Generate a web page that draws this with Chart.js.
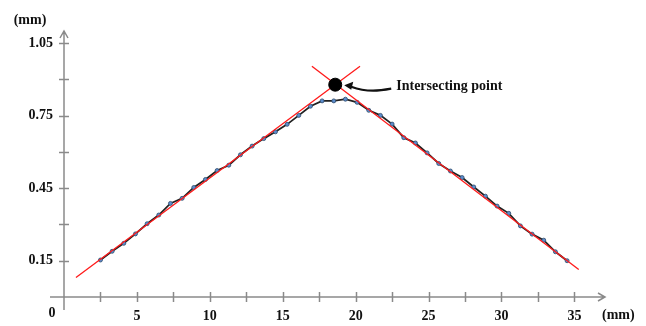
<!DOCTYPE html>
<html>
<head>
<meta charset="utf-8">
<script src="https://cdn.jsdelivr.net/npm/chart.js@4.4.1/dist/chart.umd.min.js"></script>
<style>
  html, body { margin: 0; padding: 0; background: #fff; }
  #wrap { width: 646px; height: 326px; }
</style>
</head>
<body>
<div id="wrap"><canvas id="chart" width="646" height="326"></canvas></div>
<script>
// measured profile (mm)
const xValues = [2.5, 3.3, 4.1, 4.9, 5.7, 6.5, 7.3, 8.1, 8.9, 9.7, 10.5, 11.3, 12.1, 12.9,
    13.7, 14.5, 15.3, 16.1, 16.9, 17.7, 18.5, 19.3, 20.1, 20.9, 21.7, 22.5, 23.3, 24.1,
    24.9, 25.7, 26.5, 27.3, 28.1, 28.9, 29.7, 30.5, 31.3, 32.1, 32.9, 33.7, 34.5];
const yValues = [0.153, 0.189, 0.222, 0.261, 0.303, 0.339, 0.387, 0.408, 0.453, 0.486, 0.523, 0.545, 0.588, 0.624,
    0.655, 0.683, 0.714, 0.751, 0.789, 0.811, 0.811, 0.818, 0.805, 0.772, 0.751, 0.715, 0.659, 0.637,
    0.596, 0.552, 0.521, 0.494, 0.455, 0.417, 0.376, 0.346, 0.294, 0.260, 0.235, 0.187, 0.150];

// fitted lines (end points)
const leftLineX = [0.82, 20.3];
const leftLineY = [0.081, 0.954];
const rightLineX = [17.0, 35.3];
const rightLineY = [0.954, 0.114];

const intersectX = [18.6];
const intersectY = [0.878];

const xTicks = [0, 2.5, 5, 7.5, 10, 12.5, 15, 17.5, 20, 22.5, 25, 27.5, 30, 32.5, 35];
const xLabels = [5, 10, 15, 20, 25, 30, 35];
const yTicks = [0.15, 0.3, 0.45, 0.6, 0.75, 0.9, 1.05];
const yLabels = [0.15, 0.45, 0.75, 1.05];

const toPoints = (xs, ys) => xs.map((x, i) => ({ x: x, y: ys[i] }));

const labelFont = { family: '"Liberation Serif", "Times New Roman", serif', size: 14, weight: 'bold' };
const axisColor = '#8a8a8a';

// axis lines with arrows and crossing ticks, plus the annotation
const axesPlugin = {
    id: 'axesPlugin',
    afterDraw(chart) {
        const ctx = chart.ctx;
        const xs = chart.scales.x;
        const ys = chart.scales.y;
        const x0 = xs.getPixelForValue(0);
        const y0 = ys.getPixelForValue(0);
        const xEnd = xs.right;
        const yTop = ys.top;

        ctx.save();
        ctx.strokeStyle = axisColor;
        ctx.lineWidth = 1.5;

        // x axis
        ctx.beginPath();
        ctx.moveTo(x0 - 14, y0);
        ctx.lineTo(xEnd, y0);
        ctx.moveTo(xEnd - 7, y0 - 4);
        ctx.lineTo(xEnd, y0);
        ctx.lineTo(xEnd - 7, y0 + 4);
        // y axis
        ctx.moveTo(x0, y0 + 13);
        ctx.lineTo(x0, yTop);
        ctx.moveTo(x0 - 4, yTop + 7);
        ctx.lineTo(x0, yTop);
        ctx.lineTo(x0 + 4, yTop + 7);
        ctx.stroke();

        // ticks
        ctx.beginPath();
        xTicks.forEach(v => {
            if (v === 0) return;
            const px = Math.round(xs.getPixelForValue(v)) + 0.5;
            ctx.moveTo(px, y0 - 5);
            ctx.lineTo(px, y0 + 5);
        });
        yTicks.forEach(v => {
            const py = Math.round(ys.getPixelForValue(v)) + 0.5;
            ctx.moveTo(x0 - 5, py);
            ctx.lineTo(x0 + 5, py);
        });
        ctx.stroke();

        // texts
        ctx.fillStyle = '#111';
        ctx.font = 'bold 14px "Liberation Serif", serif';
        ctx.textBaseline = 'middle';
        ctx.textAlign = 'center';
        ctx.fillText('0', x0 - 12, y0 + 16);
        ctx.fillText('(mm)', 30, 20);
        ctx.textAlign = 'left';
        ctx.fillText('(mm)', xEnd - 3, y0 + 18);

        // annotation arrow + text
        const ix = xs.getPixelForValue(intersectX[0]);
        const iy = ys.getPixelForValue(intersectY[0]);
        ctx.fillText('Intersecting point', ix + 61, iy + 2);

        ctx.strokeStyle = '#111';
        ctx.lineWidth = 2.2;
        ctx.beginPath();
        ctx.moveTo(ix + 56, iy + 4);
        ctx.bezierCurveTo(ix + 45, iy + 6, ix + 32, iy + 8, ix + 16, iy + 2);
        ctx.stroke();
        ctx.beginPath();
        ctx.moveTo(ix + 9, iy + 0.5);
        ctx.lineTo(ix + 18, iy - 3);
        ctx.lineTo(ix + 16, iy + 5);
        ctx.closePath();
        ctx.fill();
        ctx.restore();
    }
};

new Chart(document.getElementById('chart'), {
    type: 'scatter',
    data: {
        datasets: [
            {
                data: toPoints(intersectX, intersectY),
                backgroundColor: '#000',
                borderColor: '#000',
                pointRadius: 6.5,
                order: 1
            },
            {
                data: toPoints(leftLineX, leftLineY),
                showLine: true,
                borderColor: '#ff1a1a',
                borderWidth: 1.3,
                pointRadius: 0,
                order: 2
            },
            {
                data: toPoints(rightLineX, rightLineY),
                showLine: true,
                borderColor: '#ff1a1a',
                borderWidth: 1.3,
                pointRadius: 0,
                order: 2
            },
            {
                data: toPoints(xValues, yValues),
                showLine: true,
                borderColor: '#222',
                borderWidth: 1.8,
                pointRadius: 2,
                pointBackgroundColor: '#5b8ccc',
                pointBorderColor: '#2f4a6a',
                pointBorderWidth: 0.8,
                order: 3
            }
        ]
    },
    options: {
        responsive: false,
        animation: false,
        events: [],
        layout: { padding: { top: 31, right: 41, bottom: 0, left: 0 } },
        plugins: {
            legend: { display: false },
            tooltip: { enabled: false }
        },
        scales: {
            x: {
                type: 'linear',
                min: 0,
                max: 37.1,
                afterBuildTicks: s => { s.ticks = xTicks.map(v => ({ value: v })); },
                afterFit: s => { s.height = 29; },
                grid: { display: false, drawTicks: false },
                border: { display: false },
                ticks: {
                    padding: 11,
                    color: '#111',
                    font: labelFont,
                    maxRotation: 0,
                    autoSkip: false,
                    callback: v => xLabels.includes(v) ? String(v) : ''
                }
            },
            y: {
                type: 'linear',
                min: 0,
                max: 1.1,
                afterBuildTicks: s => { s.ticks = yTicks.map(v => ({ value: v })); },
                afterFit: s => { s.width = 64; },
                grid: { display: false, drawTicks: false },
                border: { display: false },
                ticks: {
                    padding: 11,
                    color: '#111',
                    font: labelFont,
                    autoSkip: false,
                    callback: v => yLabels.some(l => Math.abs(l - v) < 1e-6) ? v.toFixed(2) : ''
                }
            }
        }
    },
    plugins: [axesPlugin]
});
</script>
</body>
</html>
